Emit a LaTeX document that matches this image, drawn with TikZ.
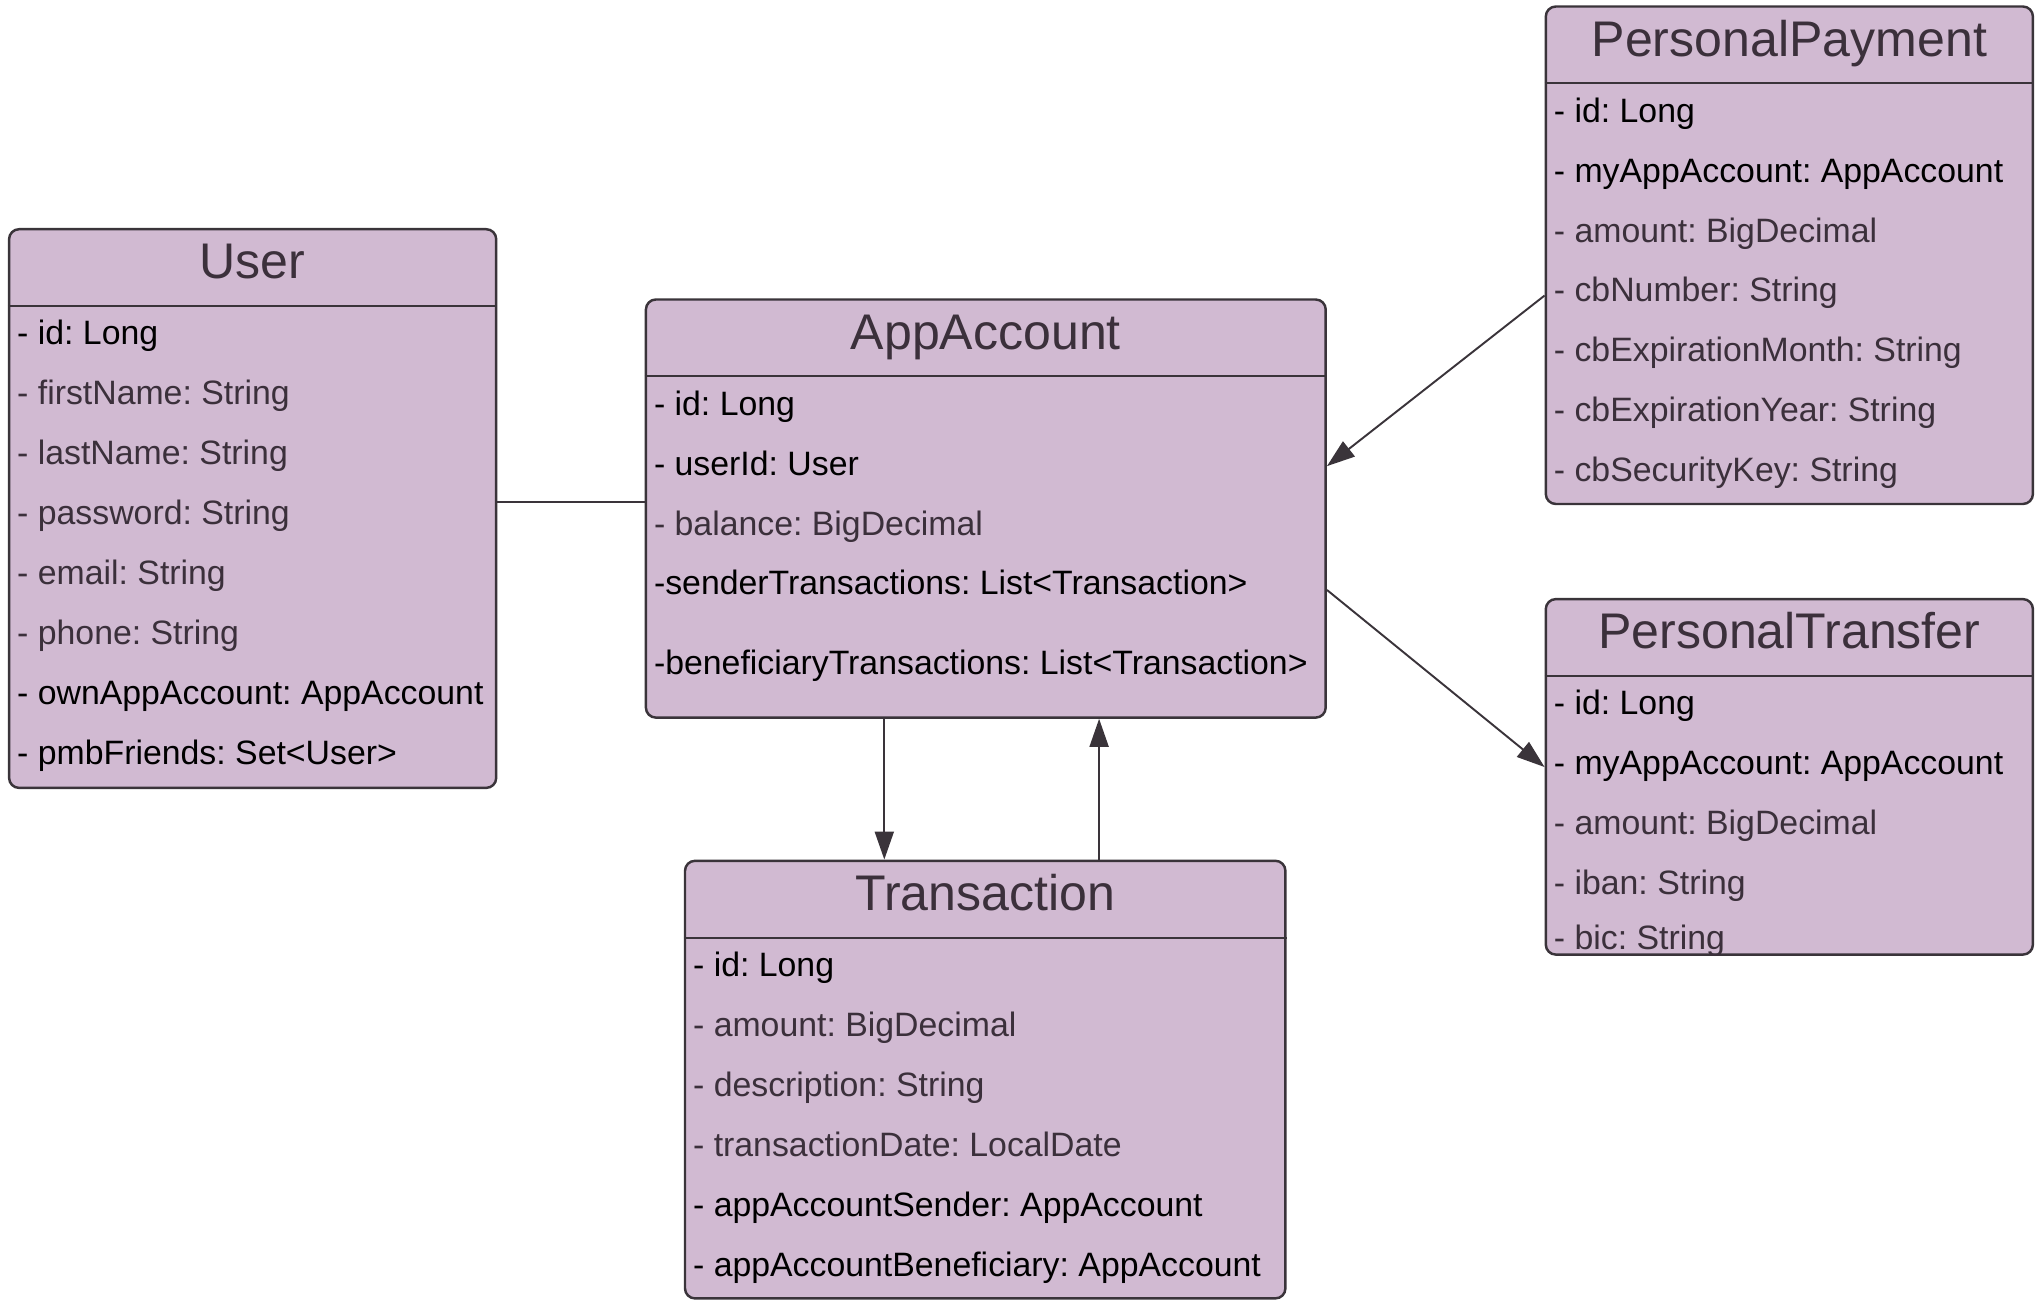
\documentclass[tikz,border=0pt]{standalone}
\usepackage{fontspec}
\setmainfont{Liberation Sans}
\usetikzlibrary{calc,fit,arrows.meta}
\definecolor{classfill}{HTML}{D1BAD2}
\definecolor{classline}{HTML}{3A343A}
\definecolor{attrgray}{HTML}{3B303B}
\frenchspacing

\begin{document}
\begin{tikzpicture}[x=0.02cm, y=-0.02cm,
    classbox/.style={rectangle, rounded corners=0.2cm, draw=classline, line width=1.4pt, fill=classfill, inner sep=0pt},
    classname/.style={anchor=base, inner sep=0pt, text=attrgray, font=\fontsize{28.5}{34}\selectfont},
    attr/.style={anchor=base west, inner sep=0pt, font=\fontsize{19.25}{23}\selectfont},
    divider/.style={draw=classline, line width=1.2pt},
    link/.style={draw=classline, line width=1.1pt},
    assoc/.style={link, -{Triangle[length=0.56cm, width=0.38cm]}}]
  \useasboundingbox (0,0) rectangle (2042,1304);

  % class boxes
  \node[classbox, fit={(9.1,229.2) (496.2,787.9)}] (user) {};
  \node[classbox, fit={(645.9,299.5) (1325.7,717.6)}] (acct) {};
  \node[classbox, fit={(1545.8,6.5) (2032.9,504.0)}] (pay) {};
  \node[classbox, fit={(1545.8,599.1) (2032.9,954.6)}] (transfer) {};
  \node[classbox, fit={(685.0,860.8) (1285.4,1298.4)}] (trans) {};

  % names and dividers
  \foreach \cls/\name in {user/User, acct/AppAccount, pay/PersonalPayment,
                          transfer/PersonalTransfer, trans/Transaction} {
    \node[classname] (\cls-name) at ($(\cls.north)+(0,51)$) {\name};
    \draw[divider] ($(\cls.north west)+(0,78)$) -- ($(\cls.north east)+(0,78)$);
  }

  % attributes
  \foreach \dy/\txt/\tc [count=\i] in {117/{- id: Long}/black,
      176.9/{- firstName: String}/attrgray, 236.8/{- lastName: String}/attrgray,
      296.7/{- password: String}/attrgray, 356.6/{- email: String}/attrgray,
      416.5/{- phone: String}/attrgray, 476.4/{- ownAppAccount: AppAccount}/black,
      536.3/{- pmbFriends: Set<User>}/black}
    \node[attr, text=\tc] (user-\i) at ($(user.north west)+(9,\dy)$) {\txt};

  \foreach \dy/\txt/\tc [count=\i] in {117/{- id: Long}/black,
      176.9/{- userId: User}/black, 236.8/{- balance: BigDecimal}/attrgray,
      296.7/{-senderTransactions: List<Transaction>}/black,
      376.1/{-beneficiaryTransactions: List<Transaction>}/black}
    \node[attr, text=\tc] (acct-\i) at ($(acct.north west)+(9,\dy)$) {\txt};

  \foreach \dy/\txt/\tc [count=\i] in {117/{- id: Long}/black,
      176.9/{- myAppAccount: AppAccount}/black, 236.8/{- amount: BigDecimal}/attrgray,
      296.7/{- cbNumber: String}/attrgray, 356.6/{- cbExpirationMonth: String}/attrgray,
      416.5/{- cbExpirationYear: String}/attrgray, 476.4/{- cbSecurityKey: String}/attrgray}
    \node[attr, text=\tc] (pay-\i) at ($(pay.north west)+(9,\dy)$) {\txt};

  \foreach \dy/\txt/\tc [count=\i] in {117/{- id: Long}/black,
      176.9/{- myAppAccount: AppAccount}/black, 236.8/{- amount: BigDecimal}/attrgray,
      296.7/{- iban: String}/attrgray, 351.3/{- bic: String}/attrgray}
    \node[attr, text=\tc] (transfer-\i) at ($(transfer.north west)+(9,\dy)$) {\txt};

  \foreach \dy/\txt/\tc [count=\i] in {117/{- id: Long}/black,
      176.9/{- amount: BigDecimal}/attrgray, 236.8/{- description: String}/attrgray,
      296.7/{- transactionDate: LocalDate}/attrgray,
      356.6/{- appAccountSender: AppAccount}/black,
      416.5/{- appAccountBeneficiary: AppAccount}/black}
    \node[attr, text=\tc] (trans-\i) at ($(trans.north west)+(9,\dy)$) {\txt};

  % associations
  \coordinate (ua) at ($(user.east)+(0,-7)$);
  \draw[link] (ua) -- (ua -| acct.west);
  \draw[assoc] ($(pay.west)+(0,40.3)$) -- ($(acct.east)+(0,-42.4)$);
  \draw[assoc] ($(acct.east)+(0,81.4)$) -- ($(transfer.west)+(0,-9.8)$);
  \coordinate (ad) at ($(acct.south)+(-101.5,0)$);
  \draw[assoc] (ad) -- (ad |- trans.north);
  \coordinate (tu) at ($(trans.north)+(113.9,0)$);
  \draw[assoc] (tu) -- (tu |- acct.south);
\end{tikzpicture}
\end{document}
